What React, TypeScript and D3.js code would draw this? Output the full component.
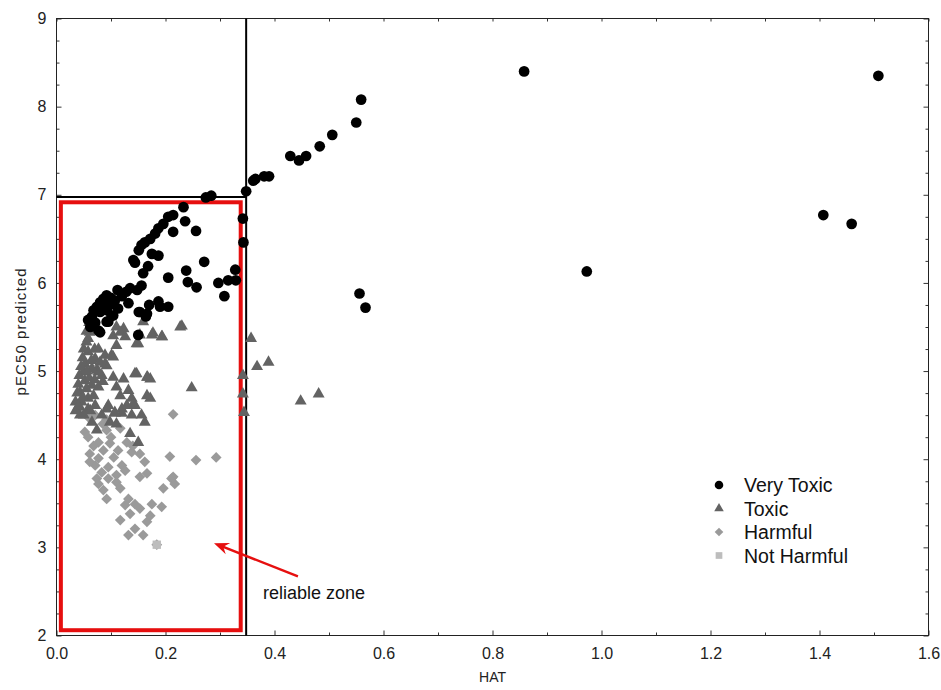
import React, { useEffect, useRef } from 'react';
import * as d3 from 'd3';

// [HAT, pEC50 predicted]
const veryToxic = [
  [0.858, 8.40], [1.508, 8.35], [1.407, 6.77], [1.459, 6.67], [0.973, 6.13],
  [0.559, 8.08], [0.550, 7.82], [0.506, 7.68], [0.483, 7.55], [0.458, 7.44], [0.445, 7.39],
  [0.429, 7.44], [0.390, 7.21], [0.381, 7.21], [0.365, 7.18], [0.361, 7.16], [0.348, 7.04],
  [0.342, 6.73], [0.343, 6.46], [0.556, 5.88], [0.567, 5.72],
  [0.274, 6.97], [0.284, 6.99], [0.233, 6.86], [0.214, 6.77], [0.205, 6.75], [0.236, 6.70],
  [0.196, 6.67], [0.187, 6.62], [0.214, 6.58], [0.256, 6.59], [0.181, 6.56], [0.172, 6.50],
  [0.162, 6.46], [0.156, 6.43], [0.175, 6.33], [0.187, 6.31], [0.151, 6.37], [0.141, 6.26],
  [0.144, 6.23], [0.271, 6.24], [0.168, 6.19], [0.328, 6.15], [0.159, 6.11], [0.238, 6.14],
  [0.205, 6.06], [0.241, 6.01], [0.257, 5.95], [0.297, 6.00], [0.315, 6.03], [0.329, 6.03],
  [0.308, 5.85], [0.156, 5.97], [0.148, 5.92], [0.135, 5.94], [0.112, 5.92], [0.132, 5.77],
  [0.151, 5.67], [0.170, 5.75], [0.187, 5.79], [0.205, 5.73], [0.164, 5.62], [0.113, 5.71],
  [0.092, 5.86], [0.086, 5.82], [0.080, 5.78], [0.074, 5.73], [0.068, 5.69], [0.065, 5.62],
  [0.058, 5.58], [0.080, 5.67], [0.092, 5.69], [0.098, 5.75], [0.092, 5.56], [0.101, 5.63],
  [0.107, 5.80], [0.080, 5.44], [0.077, 5.46], [0.095, 5.56], [0.104, 5.63], [0.153, 5.67],
  [0.166, 5.65], [0.190, 5.73], [0.150, 5.41], [0.120, 5.85], [0.128, 5.90], [0.100, 5.83],
  [0.089, 5.76], [0.071, 5.55], [0.062, 5.50],
];

const toxic = [
  [0.357, 5.37], [0.368, 5.05], [0.389, 5.10], [0.448, 4.66], [0.481, 4.74], [0.342, 4.95],
  [0.342, 4.74], [0.344, 4.53], [0.230, 5.51], [0.177, 5.43], [0.194, 5.39], [0.248, 4.81],
  [0.172, 4.91], [0.172, 4.69],
  [0.065, 5.48], [0.058, 5.37], [0.110, 5.50], [0.123, 5.48], [0.104, 5.40], [0.159, 5.56],
  [0.175, 5.41], [0.193, 5.39], [0.150, 5.31], [0.153, 5.41], [0.110, 5.29], [0.227, 5.50],
  [0.055, 5.33], [0.058, 5.22], [0.077, 5.25], [0.089, 5.18], [0.104, 5.16], [0.071, 5.14],
  [0.052, 5.08], [0.092, 5.06], [0.074, 5.01], [0.083, 4.95], [0.049, 4.99], [0.052, 4.89],
  [0.065, 4.84], [0.077, 4.82], [0.104, 4.93], [0.123, 4.91], [0.144, 4.97], [0.167, 4.93],
  [0.110, 4.82], [0.132, 4.78], [0.117, 4.72], [0.138, 4.69], [0.166, 4.72], [0.043, 4.76],
  [0.046, 4.65], [0.058, 4.69], [0.071, 4.61], [0.095, 4.61], [0.120, 4.57], [0.144, 4.61],
  [0.043, 4.50], [0.083, 4.50], [0.107, 4.52], [0.138, 4.50], [0.156, 4.50],
  [0.043, 4.59], [0.058, 4.57], [0.092, 4.57], [0.129, 4.61], [0.141, 4.63], [0.065, 4.42],
  [0.074, 4.33], [0.098, 4.42], [0.110, 4.40], [0.120, 4.52], [0.162, 4.42], [0.135, 4.29],
  [0.150, 4.19], [0.107, 4.53],
  [0.061, 5.44], [0.117, 5.44], [0.126, 5.39], [0.147, 5.31], [0.101, 5.18], [0.089, 5.08],
  [0.077, 4.99], [0.147, 4.97], [0.166, 4.93],
  [0.035, 4.55], [0.035, 4.65], [0.038, 4.75], [0.040, 4.85], [0.042, 4.95], [0.045, 5.05],
  [0.048, 5.15], [0.050, 5.25], [0.055, 5.45], [0.060, 5.55], [0.040, 4.60], [0.048, 4.70],
  [0.055, 4.80], [0.060, 4.92], [0.065, 5.03], [0.070, 5.25], [0.068, 4.72], [0.062, 4.55],
  [0.050, 4.50], [0.064, 5.12], [0.080, 5.10], [0.085, 4.88], [0.070, 4.90], [0.056, 5.00],
];

const harmful = [
  [0.214, 4.51], [0.052, 4.31], [0.058, 4.25], [0.077, 4.19], [0.092, 4.33], [0.117, 4.35],
  [0.129, 4.19], [0.098, 4.18], [0.086, 4.10], [0.061, 4.06], [0.077, 4.01], [0.113, 4.10],
  [0.138, 4.08], [0.153, 4.06], [0.162, 3.97], [0.208, 4.03], [0.071, 3.93], [0.095, 3.91],
  [0.120, 3.93], [0.126, 3.87], [0.083, 3.85], [0.074, 3.78], [0.095, 3.78], [0.110, 3.82],
  [0.110, 3.74], [0.153, 3.80], [0.166, 3.84], [0.211, 3.78], [0.217, 3.72], [0.077, 3.72],
  [0.086, 3.65], [0.117, 3.67], [0.092, 3.55], [0.196, 3.67], [0.132, 3.55], [0.126, 3.48],
  [0.144, 3.49], [0.153, 3.44], [0.175, 3.49], [0.193, 3.46], [0.172, 3.36], [0.135, 3.38],
  [0.166, 3.29], [0.117, 3.31], [0.144, 3.21], [0.132, 3.14], [0.159, 3.14], [0.256, 3.99],
  [0.293, 4.02], [0.214, 3.80], [0.061, 3.97], [0.071, 4.50], [0.092, 4.45], [0.058, 4.48],
  [0.100, 4.25], [0.068, 4.15], [0.105, 4.02], [0.140, 4.15], [0.085, 4.40], [0.184, 3.03],
];

const notHarmful = [[0.184, 3.03]];

const xTicks = [0, 0.2, 0.4, 0.6, 0.8, 1.0, 1.2, 1.4, 1.6];
const xMinor = [0.1, 0.3, 0.5, 0.7, 0.9, 1.1, 1.3, 1.5];
const yTicks = [2, 3, 4, 5, 6, 7, 8, 9];
const yMinor = d3.range(2.25, 9, 0.25).filter(d => d % 1 !== 0);
const legendLabels = ['Very Toxic', 'Toxic', 'Harmful', 'Not Harmful'];

// applicability domain limits (h* and the activity cut)
const hatLimit = 0.348;
const pecLimit = 6.975;

const font = 'Liberation Sans, Arial, sans-serif';
const red = '#e60f0f';

function App() {
  const ref = useRef<SVGSVGElement>(null);

  useEffect(() => {
    const svg = d3.select(ref.current);
    svg.selectAll('*').remove();

    const x = d3.scaleLinear().domain([0, 1.6]).range([56.5, 928.5]);
    const y = d3.scaleLinear().domain([2, 9]).range([635.5, 18.5]);

    const styleAxis = (g: any) => {
      g.select('.domain').remove();
      g.selectAll('line').attr('stroke', '#333');
      g.selectAll('text').attr('font-family', font).attr('font-size', 16).attr('fill', '#222');
    };

    // ticks, all pointing inward
    svg.append('g').attr('transform', `translate(0,${y(2)})`)
      .call(d3.axisBottom(x).tickValues(xMinor).tickSize(-3).tickFormat(() => '')).call(styleAxis);
    svg.append('g').attr('transform', `translate(0,${y(2)})`)
      .call(d3.axisBottom(x).tickValues(xTicks).tickSize(-5).tickPadding(12).tickFormat(d3.format('.1f'))).call(styleAxis);
    svg.append('g').attr('transform', `translate(0,${y(9)})`)
      .call(d3.axisTop(x).tickValues(xMinor.concat(xTicks)).tickSize(-3).tickFormat(() => '')).call(styleAxis);
    svg.append('g').attr('transform', `translate(${x(0)},0)`)
      .call(d3.axisLeft(y).tickValues(yMinor).tickSize(-3).tickFormat(() => '')).call(styleAxis);
    svg.append('g').attr('transform', `translate(${x(0)},0)`)
      .call(d3.axisLeft(y).tickValues(yTicks).tickSize(-5).tickPadding(10).tickFormat(d3.format('d'))).call(styleAxis);
    svg.append('g').attr('transform', `translate(${x(1.6)},0)`)
      .call(d3.axisRight(y).tickValues(yMinor).tickSize(-3).tickFormat(() => '')).call(styleAxis);
    svg.append('g').attr('transform', `translate(${x(1.6)},0)`)
      .call(d3.axisRight(y).tickValues(yTicks).tickSize(-5).tickFormat(() => '')).call(styleAxis);

    svg.append('rect')
      .attr('x', x(0)).attr('y', y(9))
      .attr('width', x(1.6) - x(0)).attr('height', y(2) - y(9))
      .attr('fill', 'none').attr('stroke', '#222');

    // limit lines
    svg.append('line')
      .attr('x1', x(hatLimit)).attr('x2', x(hatLimit)).attr('y1', y(9)).attr('y2', y(2))
      .attr('stroke', '#000').attr('stroke-width', 2);
    svg.append('line')
      .attr('x1', x(0)).attr('x2', x(hatLimit)).attr('y1', y(pecLimit)).attr('y2', y(pecLimit))
      .attr('stroke', '#000').attr('stroke-width', 2);

    // reliable zone box
    svg.append('rect')
      .attr('x', x(0.008)).attr('y', y(6.915))
      .attr('width', x(0.338) - x(0.008)).attr('height', y(2.06) - y(6.915))
      .attr('fill', 'none').attr('stroke', red).attr('stroke-width', 4);

    const circle = d3.symbol().type(d3.symbolCircle).size(90)();
    const triangle = d3.symbol().type(d3.symbolTriangle).size(62)();
    const diamond = d3.symbol().type(d3.symbolSquare).size(58)();
    const square = d3.symbol().type(d3.symbolSquare).size(70)();

    const plot = (data: number[][], path: string | null, fill: string, rot = 0) => {
      svg.append('g').selectAll('path').data(data).enter().append('path')
        .attr('d', path)
        .attr('transform', d => `translate(${x(d[0])},${y(d[1])}) rotate(${rot})`)
        .attr('fill', fill);
    };

    plot(harmful, diamond, '#9a9a9a', 45);
    plot(notHarmful, square, '#bdbdbd');
    plot(toxic, triangle, '#636363');
    plot(veryToxic, circle, '#000');

    // arrow to the zone
    const tail = [x(0.443), y(2.67)];
    const tip = [x(0.289), y(3.048)];
    const len = Math.hypot(tip[0] - tail[0], tip[1] - tail[1]);
    const ux = (tip[0] - tail[0]) / len, uy = (tip[1] - tail[1]) / len;
    const nx = -uy, ny = ux;
    svg.append('line')
      .attr('x1', tail[0]).attr('y1', tail[1])
      .attr('x2', tip[0] - ux * 8).attr('y2', tip[1] - uy * 8)
      .attr('stroke', red).attr('stroke-width', 2.5);
    svg.append('path')
      .attr('d', `M${tip[0]},${tip[1]}L${tip[0] - ux * 15 + nx * 6},${tip[1] - uy * 15 + ny * 6}L${tip[0] - ux * 10},${tip[1] - uy * 10}L${tip[0] - ux * 15 - nx * 6},${tip[1] - uy * 15 - ny * 6}Z`)
      .attr('fill', red);

    svg.append('text')
      .attr('x', x(0.379)).attr('y', y(2.41))
      .attr('font-family', font).attr('font-size', 18).attr('fill', '#111')
      .text('reliable zone');

    // legend
    const legendShapes = [circle, triangle, diamond, square];
    const legendFills = ['#000', '#636363', '#9a9a9a', '#bdbdbd'];
    const legendRot = [0, 0, 45, 0];
    const lg = svg.append('g').attr('transform', 'translate(719,485)');
    legendLabels.forEach((label, i) => {
      lg.append('path')
        .attr('d', legendShapes[i])
        .attr('transform', `translate(0,${i * 23.5}) rotate(${legendRot[i]}) scale(0.8)`)
        .attr('fill', legendFills[i]);
      lg.append('text')
        .attr('x', 25).attr('y', i * 23.5 + 7)
        .attr('font-family', font).attr('font-size', 19.5).attr('fill', '#111')
        .text(label);
    });

    // axis titles
    svg.append('text')
      .attr('x', (x(0) + x(1.6)) / 2).attr('y', 682)
      .attr('text-anchor', 'middle')
      .attr('font-family', font).attr('font-size', 14).attr('fill', '#222')
      .text('HAT');
    svg.append('text')
      .attr('transform', `translate(26,${(y(2) + y(9)) / 2 + 5}) rotate(-90)`)
      .attr('text-anchor', 'middle')
      .attr('font-family', font).attr('font-size', 15).attr('fill', '#222')
      .attr('textLength', 127).attr('lengthAdjust', 'spacing')
      .text('pEC50 predicted');
  }, []);

  return (
    <svg ref={ref} width={941} height={690}
      style={{ position: 'absolute', left: 0, top: 0, background: '#fff' }} />
  );
}

export default App;
